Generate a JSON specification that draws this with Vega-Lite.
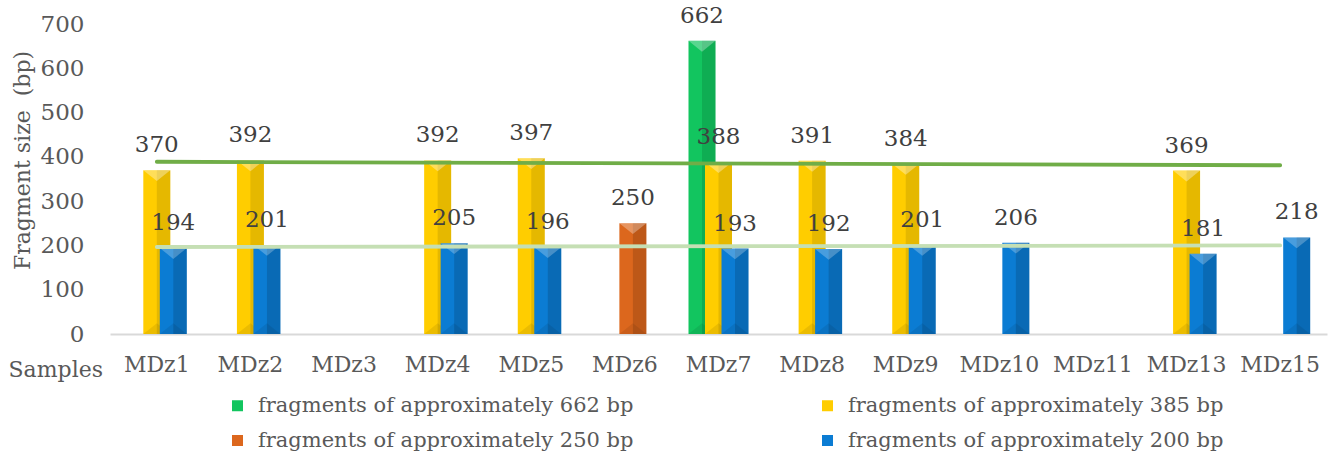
{
  "$schema": "https://vega.github.io/schema/vega-lite/v6.json",
  "width": 1217,
  "height": 310,
  "autosize": {"type": "none"},
  "padding": {"left": 110, "top": 24, "right": 6, "bottom": 121},
  "background": "white",
  "config": {
    "view": {"stroke": null},
    "font": "DejaVu Serif"
  },
  "datasets": {
    "sizes": [
      {"sample": "MDz1", "series": "385", "fragment": "fragments of approximately 385 bp", "size": 370},
      {"sample": "MDz1", "series": "200", "fragment": "fragments of approximately 200 bp", "size": 194},
      {"sample": "MDz2", "series": "385", "fragment": "fragments of approximately 385 bp", "size": 392},
      {"sample": "MDz2", "series": "200", "fragment": "fragments of approximately 200 bp", "size": 201},
      {"sample": "MDz4", "series": "385", "fragment": "fragments of approximately 385 bp", "size": 392},
      {"sample": "MDz4", "series": "200", "fragment": "fragments of approximately 200 bp", "size": 205},
      {"sample": "MDz5", "series": "385", "fragment": "fragments of approximately 385 bp", "size": 397},
      {"sample": "MDz5", "series": "200", "fragment": "fragments of approximately 200 bp", "size": 196},
      {"sample": "MDz6", "series": "250", "fragment": "fragments of approximately 250 bp", "size": 250},
      {"sample": "MDz7", "series": "662", "fragment": "fragments of approximately 662 bp", "size": 662},
      {"sample": "MDz7", "series": "385", "fragment": "fragments of approximately 385 bp", "size": 388},
      {"sample": "MDz7", "series": "200", "fragment": "fragments of approximately 200 bp", "size": 193},
      {"sample": "MDz8", "series": "385", "fragment": "fragments of approximately 385 bp", "size": 391},
      {"sample": "MDz8", "series": "200", "fragment": "fragments of approximately 200 bp", "size": 192},
      {"sample": "MDz9", "series": "385", "fragment": "fragments of approximately 385 bp", "size": 384},
      {"sample": "MDz9", "series": "200", "fragment": "fragments of approximately 200 bp", "size": 201},
      {"sample": "MDz10", "series": "200", "fragment": "fragments of approximately 200 bp", "size": 206},
      {"sample": "MDz13", "series": "385", "fragment": "fragments of approximately 385 bp", "size": 369},
      {"sample": "MDz13", "series": "200", "fragment": "fragments of approximately 200 bp", "size": 181},
      {"sample": "MDz15", "series": "200", "fragment": "fragments of approximately 200 bp", "size": 218}
    ],
    "trend385": [
      {"sample": "MDz1", "size": 389},
      {"sample": "MDz15", "size": 381}
    ],
    "trend200": [
      {"sample": "MDz1", "size": 196.5},
      {"sample": "MDz15", "size": 200}
    ]
  },
  "data": {"name": "sizes"},
  "encoding": {
    "x": {
      "field": "sample",
      "type": "nominal",
      "title": "Samples",
      "scale": {
        "domain": ["MDz1", "MDz2", "MDz3", "MDz4", "MDz5", "MDz6", "MDz7", "MDz8", "MDz9", "MDz10", "MDz11", "MDz13", "MDz15"],
        "paddingInner": 0.47,
        "paddingOuter": 0.235
      },
      "axis": {
        "labelAngle": 0,
        "ticks": false,
        "domainColor": "#d9d9d9",
        "domainWidth": 2,
        "labelFont": "DejaVu Serif",
        "labelFontSize": 22,
        "labelColor": "#595959",
        "labelPadding": 20,
        "titleFont": "DejaVu Serif",
        "titleFontSize": 22,
        "titleFontWeight": "normal",
        "titleColor": "#595959",
        "titleAlign": "left",
        "titleBaseline": "alphabetic",
        "titleX": -102,
        "titleY": 42
      }
    },
    "y": {
      "field": "size",
      "type": "quantitative",
      "title": "Fragment size\u00a0 (bp)",
      "scale": {"domain": [0, 700], "nice": false},
      "axis": {
        "values": [0, 100, 200, 300, 400, 500, 600, 700],
        "grid": false,
        "domain": false,
        "ticks": false,
        "labelFont": "DejaVu Serif",
        "labelFontSize": 23,
        "labelColor": "#595959",
        "labelPadding": 26,
        "titleFont": "DejaVu Serif",
        "titleFontSize": 22,
        "titleFontWeight": "normal",
        "titleColor": "#595959",
        "titleAngle": -90,
        "titleAlign": "center",
        "titleBaseline": "middle",
        "titleX": -88,
        "titleY": 136
      }
    }
  },
  "layer": [
    {
      "transform": [{"filter": {"field": "series", "equal": "662"}}],
      "layer": [
        {
          "mark": {"type": "bar", "width": 27, "xOffset": -16.5},
          "encoding": {
            "color": {
              "field": "fragment",
              "type": "nominal",
              "scale": {
                "domain": ["fragments of approximately 662 bp", "fragments of approximately 385 bp", "fragments of approximately 250 bp", "fragments of approximately 200 bp"],
                "range": ["#12c55f", "#ffcd00", "#dc671d", "#0b7cd3"]
              },
              "legend": {
                "orient": "none",
                "legendX": 117,
                "legendY": 371,
                "direction": "horizontal",
                "columns": 2,
                "title": null,
                "symbolType": "square",
                "symbolSize": 121,
                "symbolStrokeWidth": 0,
                "labelFont": "DejaVu Serif",
                "labelFontSize": 21,
                "labelColor": "#595959",
                "labelOffset": 10,
                "labelLimit": 600,
                "columnPadding": 183,
                "rowPadding": 13
              }
            }
          }
        },
        {"mark": {"type": "bar", "width": 13.5, "xOffset": -9.75, "fill": "black", "fillOpacity": 0.12}},
        {"mark": {"type": "point", "shape": "M-1,0L1,0L0,0.8Z", "size": 729, "filled": true, "fill": "white", "fillOpacity": 0.3, "strokeWidth": 0, "xOffset": -16.5}},
        {"mark": {"type": "point", "shape": "M-1,0L1,0L0,-0.8Z", "size": 729, "filled": true, "fill": "black", "fillOpacity": 0.08, "strokeWidth": 0, "xOffset": -16.5}, "encoding": {"y": {"datum": 0}}},
        {"mark": {"type": "text", "font": "DejaVu Serif", "fontSize": 23, "fill": "#404040", "baseline": "alphabetic", "dy": -18, "xOffset": -16.5}, "encoding": {"text": {"field": "size", "type": "quantitative"}}}
      ]
    },
    {
      "transform": [{"filter": {"field": "series", "equal": "385"}}],
      "layer": [
        {"mark": {"type": "bar", "width": 27}, "encoding": {"color": {"field": "fragment", "type": "nominal"}}},
        {"mark": {"type": "bar", "width": 13.5, "xOffset": 6.75, "fill": "black", "fillOpacity": 0.1}},
        {"mark": {"type": "point", "shape": "M-1,0L1,0L0,0.8Z", "size": 729, "filled": true, "fill": "white", "fillOpacity": 0.35, "strokeWidth": 0}},
        {"mark": {"type": "point", "shape": "M-1,0L1,0L0,-0.8Z", "size": 729, "filled": true, "fill": "black", "fillOpacity": 0.08, "strokeWidth": 0}, "encoding": {"y": {"datum": 0}}},
        {"mark": {"type": "text", "font": "DejaVu Serif", "fontSize": 23, "fill": "#404040", "baseline": "alphabetic", "dy": -18}, "encoding": {"text": {"field": "size", "type": "quantitative"}}}
      ]
    },
    {
      "transform": [{"filter": {"field": "series", "equal": "250"}}],
      "layer": [
        {"mark": {"type": "bar", "width": 27, "xOffset": 8}, "encoding": {"color": {"field": "fragment", "type": "nominal"}}},
        {"mark": {"type": "bar", "width": 13.5, "xOffset": 14.75, "fill": "black", "fillOpacity": 0.14}},
        {"mark": {"type": "point", "shape": "M-1,0L1,0L0,0.8Z", "size": 729, "filled": true, "fill": "white", "fillOpacity": 0.3, "strokeWidth": 0, "xOffset": 8}},
        {"mark": {"type": "point", "shape": "M-1,0L1,0L0,-0.8Z", "size": 729, "filled": true, "fill": "black", "fillOpacity": 0.08, "strokeWidth": 0, "xOffset": 8}, "encoding": {"y": {"datum": 0}}},
        {"mark": {"type": "text", "font": "DejaVu Serif", "fontSize": 23, "fill": "#404040", "baseline": "alphabetic", "dy": -18, "xOffset": 8}, "encoding": {"text": {"field": "size", "type": "quantitative"}}}
      ]
    },
    {
      "transform": [{"filter": {"field": "series", "equal": "200"}}],
      "layer": [
        {"mark": {"type": "bar", "width": 27, "xOffset": 16.5}, "encoding": {"color": {"field": "fragment", "type": "nominal"}}},
        {"mark": {"type": "bar", "width": 13.5, "xOffset": 23.25, "fill": "black", "fillOpacity": 0.14}},
        {"mark": {"type": "point", "shape": "M-1,0L1,0L0,0.8Z", "size": 729, "filled": true, "fill": "white", "fillOpacity": 0.25, "strokeWidth": 0, "xOffset": 16.5}},
        {"mark": {"type": "point", "shape": "M-1,0L1,0L0,-0.8Z", "size": 729, "filled": true, "fill": "black", "fillOpacity": 0.08, "strokeWidth": 0, "xOffset": 16.5}, "encoding": {"y": {"datum": 0}}}
      ]
    },
    {
      "data": {"name": "trend385"},
      "mark": {"type": "line", "stroke": "#70ad47", "strokeWidth": 3.8, "strokeCap": "round"},
      "encoding": {}
    },
    {
      "data": {"name": "trend200"},
      "mark": {"type": "line", "stroke": "#c5dfb4", "strokeWidth": 3.8, "strokeCap": "round"},
      "encoding": {}
    },
    {
      "transform": [{"filter": {"field": "series", "equal": "200"}}],
      "mark": {"type": "text", "font": "DejaVu Serif", "fontSize": 23, "fill": "#404040", "baseline": "alphabetic", "dy": -18, "xOffset": 16.5},
      "encoding": {"text": {"field": "size", "type": "quantitative"}}
    }
  ]
}
